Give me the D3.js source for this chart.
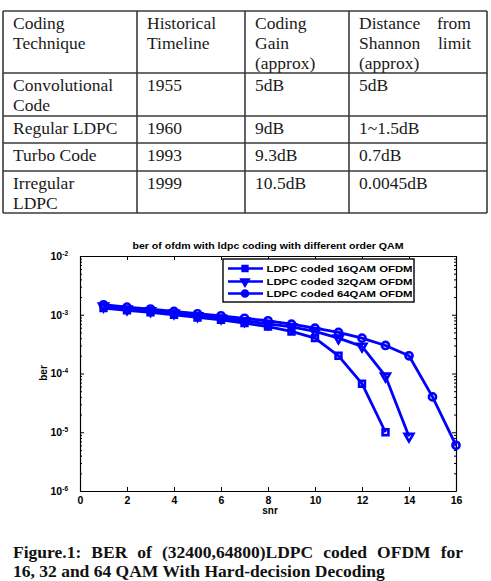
<!DOCTYPE html>
<html>
<head>
<meta charset="utf-8">
<script src="https://cdn.jsdelivr.net/npm/d3@7"></script>
<style>
  body { margin: 0; background: #fff; }
</style>
</head>
<body>
<div id="main"></div>
<script>
// ---- table data ----
var tableHeader = [
  ["Coding", "Technique"],
  ["Historical", "Timeline"],
  ["Coding", "Gain", "(approx)"],
  ["Distance from", "Shannon limit", "(approx)"]
];
var tableRows = [
  [["Convolutional", "Code"], ["1955"], ["5dB"], ["5dB"]],
  [["Regular LDPC"], ["1960"], ["9dB"], ["1~1.5dB"]],
  [["Turbo Code"], ["1993"], ["9.3dB"], ["0.7dB"]],
  [["Irregular", "LDPC"], ["1999"], ["10.5dB"], ["0.0045dB"]]
];

// ---- chart data ----
var chartTitle = "ber of ofdm with ldpc coding with different order QAM";
var seriesNames = ["LDPC coded 16QAM OFDM", "LDPC coded 32QAM OFDM", "LDPC coded 64QAM OFDM"];
var snr16 = [1, 2, 3, 4, 5, 6, 7, 8, 9, 10, 11, 12, 13];
var ber16 = [1.3e-3, 1.19e-3, 1.1e-3, 1.0e-3, 9.0e-4, 8.2e-4, 7.2e-4, 6.3e-4, 5.2e-4, 4.0e-4, 2.0e-4, 6.7e-5, 1.0e-5];
var snr32 = [1, 2, 3, 4, 5, 6, 7, 8, 9, 10, 11, 12, 13, 14];
var ber32 = [1.4e-3, 1.25e-3, 1.17e-3, 1.07e-3, 9.6e-4, 8.8e-4, 7.9e-4, 7.0e-4, 6.2e-4, 5.2e-4, 4.0e-4, 2.9e-4, 9.0e-5, 8.5e-6];
var snr64 = [1, 2, 3, 4, 5, 6, 7, 8, 9, 10, 11, 12, 13, 14, 15, 16];
var ber64 = [1.48e-3, 1.35e-3, 1.25e-3, 1.14e-3, 1.04e-3, 9.6e-4, 8.7e-4, 7.9e-4, 6.9e-4, 5.9e-4, 5.0e-4, 4.0e-4, 3.0e-4, 2.0e-4, 4.0e-5, 6.0e-6];
var xTicks = [0, 2, 4, 6, 8, 10, 12, 14, 16];
var yTicks = [1e-6, 1e-5, 1e-4, 1e-3, 1e-2];
var captionLines = ["Figure.1: BER of (32400,64800)LDPC coded OFDM for",
                    "16, 32 and 64 QAM With Hard-decision Decoding"];

var svg = d3.select("#main").append("svg")
    .attr("width", 491)
    .attr("height", 581);

var serif = "'Liberation Serif', 'Times New Roman', serif";
var sans = "'Liberation Sans', Arial, sans-serif";

// place words so the line fills [x0, x1]
function justify(g, words, x0, x1, yb, attrs) {
  var nodes = words.map(function(w) {
    var t = g.append("text").attr("y", yb).text(w);
    for (var k in attrs) t.attr(k, attrs[k]);
    return t;
  });
  var widths = nodes.map(function(t) { return t.node().getComputedTextLength(); });
  var gap = (x1 - x0 - d3.sum(widths)) / (words.length - 1);
  var cx = x0;
  nodes.forEach(function(t, i) { t.attr("x", cx); cx += widths[i] + gap; });
}

// ---- table ----
var colX = [3, 137, 245, 349, 487];
var rowY = [11, 73, 116, 143, 171, 213];
var tbl = svg.append("g");
var tAttrs = {"font-family": serif, "font-size": 17.5, "fill": "#1a1a1a"};
var allRows = [tableHeader].concat(tableRows);
allRows.forEach(function(row, r) {
  row.forEach(function(cell, c) {
    cell.forEach(function(line, l) {
      var yb = rowY[r] + 17.5 + l * 20;
      var words = line.split(" ");
      if (c === 3 && r === 0 && l < 2) {
        justify(tbl, words, colX[c] + 10, colX[c + 1] - 16, yb, tAttrs);
      } else {
        var t = tbl.append("text").attr("x", colX[c] + 10).attr("y", yb).text(line);
        for (var k in tAttrs) t.attr(k, tAttrs[k]);
      }
    });
  });
});
tbl.selectAll("line.h").data(rowY).enter().append("line")
    .attr("x1", colX[0]).attr("x2", colX[4])
    .attr("y1", function(d) { return d; }).attr("y2", function(d) { return d; })
    .attr("stroke", "#3a3a3a").attr("stroke-width", 1.6);
tbl.selectAll("line.v").data(colX).enter().append("line")
    .attr("x1", function(d) { return d; }).attr("x2", function(d) { return d; })
    .attr("y1", rowY[0]).attr("y2", rowY[rowY.length - 1])
    .attr("stroke", "#3a3a3a").attr("stroke-width", 1.6);

// ---- chart ----
var x = d3.scaleLinear().domain([0, 16]).range([80, 456]);
var y = d3.scaleLog().domain([1e-6, 1e-2]).range([491, 256]);
var minorTicks = [];
yTicks.slice(0, -1).forEach(function(d) {
  for (var m = 2; m <= 9; m++) minorTicks.push(d * m);
});

var chart = svg.append("g").attr("font-family", sans).attr("font-weight", "bold");

chart.append("g").attr("transform", "translate(0,491)")
    .call(d3.axisBottom(x).tickValues(xTicks).tickSizeInner(-4).tickSizeOuter(0).tickPadding(5.5))
    .call(function(g) { g.selectAll("text").attr("font-size", 10.5).attr("font-family", sans).attr("font-weight", "bold").attr("fill", "#000"); });
chart.append("g").attr("transform", "translate(0,256)")
    .call(d3.axisTop(x).tickValues(xTicks).tickSizeInner(-4).tickSizeOuter(0).tickFormat(""));
chart.append("g").attr("transform", "translate(80,0)")
    .call(d3.axisLeft(y).tickValues(yTicks).tickSizeInner(-4).tickSizeOuter(0).tickPadding(12))
    .call(function(g) {
      g.selectAll(".tick text").text(null)
        .attr("font-size", 10.5).attr("font-family", sans).attr("font-weight", "bold").attr("fill", "#000")
        .call(function(t) {
          t.append("tspan").text("10");
          t.append("tspan").attr("font-size", 6.5).attr("dy", -4)
            .text(function(d) { return Math.round(Math.log10(d)); });
        });
    });
chart.append("g").attr("transform", "translate(80,0)")
    .call(d3.axisLeft(y).tickValues(minorTicks).tickSizeInner(-2).tickSizeOuter(0).tickFormat(""))
    .call(function(g) { g.select(".domain").remove(); });
chart.append("g").attr("transform", "translate(456,0)")
    .call(d3.axisRight(y).tickValues(yTicks).tickSizeInner(-4).tickSizeOuter(0).tickFormat(""));
chart.append("g").attr("transform", "translate(456,0)")
    .call(d3.axisRight(y).tickValues(minorTicks).tickSizeInner(-2).tickSizeOuter(0).tickFormat(""))
    .call(function(g) { g.select(".domain").remove(); });
chart.selectAll(".domain").attr("stroke", "#000").attr("stroke-width", 1.2);
chart.selectAll(".tick line").attr("stroke", "#000");

chart.append("text").attr("x", 268).attr("y", 249).attr("text-anchor", "middle")
    .attr("font-size", 9.5).attr("textLength", 271).attr("lengthAdjust", "spacingAndGlyphs")
    .text(chartTitle);
chart.append("text").attr("x", 270).attr("y", 513.5).attr("text-anchor", "middle")
    .attr("font-size", 10).text("snr");
chart.append("text").attr("transform", "translate(47,373) rotate(-90)").attr("text-anchor", "middle")
    .attr("font-size", 10).text("ber");

var blue = "#0000ff";
var symbols = [d3.symbol().type(d3.symbolSquare).size(34),
               d3.symbol().type(d3.symbolTriangle).size(34),
               d3.symbol().type(d3.symbolCircle).size(40)];
var symRotate = [0, 180, 0];
var series = [
  snr16.map(function(s, i) { return {snr: s, ber: ber16[i]}; }),
  snr32.map(function(s, i) { return {snr: s, ber: ber32[i]}; }),
  snr64.map(function(s, i) { return {snr: s, ber: ber64[i]}; })
];
var line = d3.line().x(function(d) { return x(d.snr); }).y(function(d) { return y(d.ber); });

series.forEach(function(data, si) {
  chart.append("path").attr("d", line(data))
      .attr("fill", "none").attr("stroke", blue).attr("stroke-width", 2.8).attr("stroke-linejoin", "round");
  chart.selectAll(null).data(data).enter().append("path")
      .attr("d", symbols[si])
      .attr("transform", function(d) { return "translate(" + x(d.snr) + "," + y(d.ber) + ") rotate(" + symRotate[si] + ")"; })
      .attr("fill", "none").attr("stroke", blue).attr("stroke-width", 2.6);
});

// legend
var leg = chart.append("g");
leg.append("rect").attr("x", 223).attr("y", 259).attr("width", 191).attr("height", 43)
    .attr("fill", "#fff").attr("stroke", "#000").attr("stroke-width", 1.4);
var legY = [268.5, 281.5, 293.5];
seriesNames.forEach(function(name, i) {
  leg.append("line").attr("x1", 228).attr("x2", 263).attr("y1", legY[i]).attr("y2", legY[i])
      .attr("stroke", blue).attr("stroke-width", 2.6);
  leg.append("path").attr("d", symbols[i])
      .attr("transform", "translate(245," + legY[i] + ") rotate(" + symRotate[i] + ")")
      .attr("fill", blue).attr("stroke", blue).attr("stroke-width", 1.5);
  leg.append("text").attr("x", 266.5).attr("y", legY[i] + 3.5)
      .attr("font-size", 9.5).attr("textLength", 146).attr("lengthAdjust", "spacingAndGlyphs")
      .text(name);
});

// ---- caption ----
var cap = svg.append("g");
var cAttrs = {"font-family": serif, "font-size": 17.5, "font-weight": "bold", "fill": "#111"};
justify(cap, captionLines[0].split(" "), 13, 463, 558, cAttrs);
var c2 = cap.append("text").attr("x", 13).attr("y", 577).text(captionLines[1]);
for (var k in cAttrs) c2.attr(k, cAttrs[k]);
</script>
</body>
</html>
